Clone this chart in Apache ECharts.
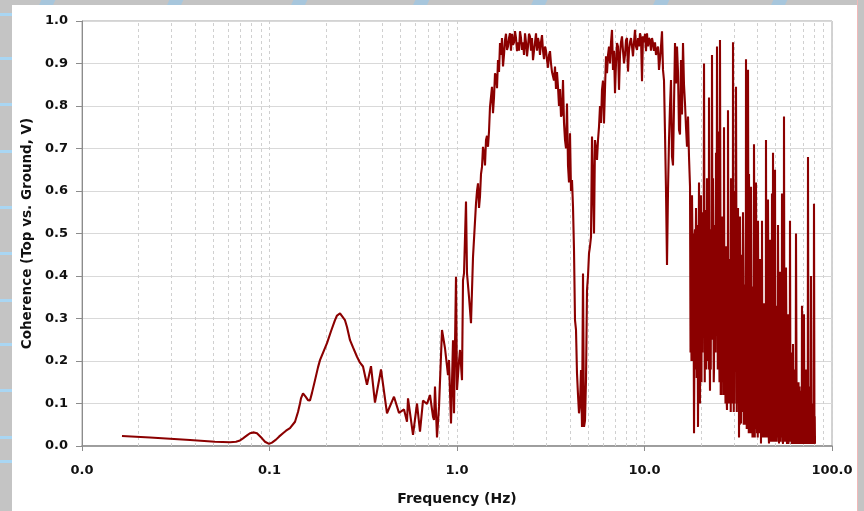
<!DOCTYPE html>
<html>
<head>
<meta charset="utf-8">
<script src="https://cdn.jsdelivr.net/npm/echarts@6/dist/echarts.min.js"></script>
<style>
  html, body { margin:0; padding:0; width:864px; height:511px; overflow:hidden; background:#c4c4c4; }
  #bg { position:absolute; left:0; top:0; width:864px; height:511px; }
  .stripeL { position:absolute; left:0; width:12px; height:3px; background:#a9d6f3; }
  .stripeT { position:absolute; top:0; width:14px; height:6px; background:#a7c6dc; transform:skewX(-25deg); }
  #panel { position:absolute; left:12px; top:5px; width:845px; height:506px; background:#ffffff; }
  #edge { position:absolute; left:857px; top:0; width:1px; height:511px; background:#f2b8b8; }
  #chart { position:absolute; left:0; top:0; width:864px; height:511px; }
</style>
</head>
<body>
<div id="bg">
  <div class="stripeT" style="left:40px"></div>
  <div class="stripeT" style="left:168px"></div>
  <div class="stripeT" style="left:292px"></div>
  <div class="stripeT" style="left:414px"></div>
  <div class="stripeT" style="left:532px"></div>
  <div class="stripeT" style="left:654px"></div>
  <div class="stripeT" style="left:772px"></div>
  <div class="stripeL" style="top:13px"></div>
  <div class="stripeL" style="top:57px"></div>
  <div class="stripeL" style="top:103px"></div>
  <div class="stripeL" style="top:150px"></div>
  <div class="stripeL" style="top:206px"></div>
  <div class="stripeL" style="top:252px"></div>
  <div class="stripeL" style="top:299px"></div>
  <div class="stripeL" style="top:343px"></div>
  <div class="stripeL" style="top:389px"></div>
  <div class="stripeL" style="top:436px"></div>
  <div class="stripeL" style="top:460px"></div>
  <div id="panel"></div>
  <div id="edge"></div>
</div>
<div id="chart"></div>
<script>
// ---- Data (frequency in Hz, coherence) ----
const freqLow = [0.01634, 0.02306, 0.03767, 0.05121, 0.06157, 0.06627, 0.06963, 0.07222, 0.07586, 0.0787,
  0.08266, 0.08577, 0.08683, 0.0912, 0.09462, 0.09939, 0.1031, 0.1083, 0.1124, 0.118,
  0.1225, 0.1286, 0.1368, 0.1419, 0.1454, 0.1472, 0.1509, 0.1565, 0.1604, 0.1644,
  0.1685, 0.1749, 0.1814, 0.1859, 0.1953, 0.2026, 0.2128, 0.2235, 0.2291, 0.2377,
  0.2435, 0.2527, 0.259, 0.2688, 0.2789, 0.2929, 0.3038, 0.3153, 0.3311, 0.3478,
  0.3652, 0.3933, 0.4233, 0.4613, 0.4905, 0.5216, 0.5412, 0.5479, 0.5826, 0.6119,
  0.6348, 0.6587, 0.6918];
const cohLow = [0.0235, 0.020, 0.014, 0.010, 0.009, 0.010, 0.013, 0.018, 0.025, 0.030,
  0.032, 0.030, 0.028, 0.018, 0.010, 0.005, 0.008, 0.015, 0.022, 0.030,
  0.036, 0.042, 0.057, 0.080, 0.100, 0.112, 0.124, 0.115, 0.108, 0.107,
  0.125, 0.155, 0.185, 0.202, 0.225, 0.242, 0.270, 0.296, 0.307, 0.312,
  0.308, 0.296, 0.280, 0.249, 0.232, 0.210, 0.196, 0.187, 0.144, 0.188,
  0.102, 0.180, 0.077, 0.116, 0.078, 0.086, 0.057, 0.112, 0.026, 0.100,
  0.034, 0.107, 0.099];

const freqMid = [0.7178, 0.7356, 0.7447, 0.7539, 0.7632, 0.7822, 0.8017, 0.8318, 0.863, 0.8954,
  0.9064, 0.929, 0.9521, 0.9638, 0.9878, 1.0, 1.0249, 1.0375, 1.0633, 1.0765,
  1.0898, 1.1169, 1.1307, 1.1589, 1.1877, 1.2173, 1.263, 1.2943, 1.3264, 1.3594,
  1.3762, 1.4279, 1.4634, 1.4997, 1.537, 1.556, 1.5947, 1.6343, 1.6545, 1.6957,
  1.7594, 1.8031, 1.8478, 1.9171, 1.9891, 2.0386, 2.0893, 2.1677, 2.2216, 2.305,
  2.3624, 2.451, 2.543, 2.6385, 2.7375, 2.8402, 2.9468, 3.02, 3.1333, 3.251,
  3.3318, 3.4567, 3.5865, 3.6757, 3.7671, 3.8607, 3.9084, 4.0057, 4.1053, 4.156,
  4.2074, 4.2594, 4.3121, 4.3652, 4.4737, 4.585, 4.6417, 4.699, 4.7571, 4.8753,
  4.9355, 5.0584, 5.1842, 5.2483, 5.3789, 5.4451, 5.5805, 5.7194, 5.9329, 6.081,
  6.2327, 6.3096, 6.4665, 6.7093, 6.7922, 6.9613, 7.134, 7.3116, 7.586, 7.7748,
  7.9679, 8.1659, 8.4724, 8.683, 8.899, 9.1201, 9.4624, 9.6977, 9.818, 10.185,
  10.311, 10.699, 11.101, 11.659, 11.949, 12.398, 12.551, 12.863, 13.183, 13.51,
  13.846, 14.017, 14.19, 14.544, 14.723, 14.905, 15.276, 15.465, 15.656, 16.046,
  16.445, 16.854, 17.062, 17.273];
const cohMid = [0.120, 0.122, 0.069, 0.061, 0.140, 0.020, 0.092, 0.273, 0.230, 0.167,
  0.202, 0.053, 0.249, 0.077, 0.398, 0.132, 0.200, 0.226, 0.155, 0.390,
  0.406, 0.575, 0.406, 0.351, 0.289, 0.445, 0.571, 0.618, 0.587, 0.657,
  0.704, 0.720, 0.704, 0.798, 0.845, 0.783, 0.877, 0.842, 0.908, 0.948,
  0.893, 0.955, 0.932, 0.971, 0.944, 0.976, 0.929, 0.976, 0.932, 0.971,
  0.917, 0.964, 0.908, 0.971, 0.948, 0.967, 0.940, 0.908, 0.929, 0.877,
  0.893, 0.845, 0.775, 0.861, 0.720, 0.806, 0.660, 0.736, 0.626, 0.563,
  0.461, 0.296, 0.273, 0.171, 0.077, 0.179, 0.045, 0.406, 0.045, 0.155,
  0.367, 0.453, 0.492, 0.728, 0.500, 0.720, 0.673, 0.751, 0.838, 0.759,
  0.917, 0.877, 0.940, 0.979, 0.885, 0.830, 0.948, 0.838, 0.964, 0.900,
  0.955, 0.881, 0.960, 0.917, 0.979, 0.932, 0.971, 0.858, 0.964, 0.929,
  0.971, 0.955, 0.948, 0.932, 0.885, 0.976, 0.885, 0.736, 0.426, 0.720,
  0.861, 0.681, 0.660, 0.948, 0.853, 0.940, 0.744, 0.733, 0.908, 0.948,
  0.806, 0.704, 0.775, 0.680];

// extra readings across the noisy band of the two broad humps
const freqMidB = [1.2785, 1.3103, 1.3428, 1.3932, 1.4104, 1.4454, 1.4814, 1.5182, 1.5753, 1.6144,
  1.675, 1.7167, 1.7379, 1.7811, 1.8253, 1.8707, 1.8937, 1.9408, 1.9648, 2.0137,
  2.0638, 2.1151, 2.1412, 2.1945, 2.2491, 2.2769, 2.3335, 2.3916, 2.4211, 2.4813,
  2.512, 2.5744, 2.6063, 2.671, 2.704, 2.7713, 2.8056, 2.8753, 2.9108, 2.9832,
  3.0573, 3.0951, 3.172, 3.2113, 3.2911, 3.3729, 3.4145, 3.4994, 3.5427, 3.6308,
  3.7211, 3.8136, 3.9567, 4.0552, 4.4191, 4.529, 4.8158, 4.9965, 5.1209, 5.3127,
  5.5123, 5.6495, 5.79, 5.8616, 6.0063, 6.1565, 6.3876, 6.5464, 6.6273, 6.8761,
  7.0469, 7.2222, 7.4019, 7.4934, 7.6798, 7.8706, 8.0662, 8.2668, 8.369, 8.5771,
  8.7903, 9.0087, 9.2328, 9.3469, 9.5793, 9.9387, 10.061, 10.439, 10.568, 10.831,
  10.965, 11.238, 11.377, 11.518, 11.804, 12.097, 12.246, 12.706, 13.022, 13.345,
  13.677, 14.366, 15.09, 15.85, 16.244, 16.648];
const cohMidB = [0.60, 0.56, 0.64, 0.69, 0.66, 0.73, 0.74, 0.80, 0.82, 0.87,
  0.88, 0.92, 0.96, 0.92, 0.97, 0.94, 0.96, 0.93, 0.97, 0.95,
  0.96, 0.95, 0.93, 0.96, 0.95, 0.92, 0.95, 0.94, 0.97, 0.93,
  0.96, 0.93, 0.95, 0.93, 0.96, 0.92, 0.95, 0.93, 0.91, 0.93,
  0.89, 0.92, 0.90, 0.88, 0.86, 0.84, 0.88, 0.80, 0.84, 0.78,
  0.76, 0.70, 0.62, 0.60, 0.12, 0.10, 0.06, 0.40, 0.47, 0.62,
  0.70, 0.72, 0.80, 0.76, 0.86, 0.84, 0.92, 0.90, 0.95, 0.93,
  0.90, 0.94, 0.92, 0.95, 0.93, 0.92, 0.96, 0.93, 0.95, 0.94,
  0.95, 0.94, 0.96, 0.94, 0.96, 0.95, 0.97, 0.94, 0.96, 0.93,
  0.96, 0.93, 0.95, 0.92, 0.94, 0.91, 0.94, 0.86, 0.60, 0.60,
  0.80, 0.80, 0.88, 0.78, 0.85, 0.75];

const freqHigh = [17.49, 17.70, 17.92, 18.14, 18.37, 18.59, 18.82, 19.06, 19.29, 19.53,
  19.77, 20.01, 20.26, 20.51, 20.77, 21.02, 21.28, 21.55, 21.81, 22.08,
  22.35, 22.63, 22.91, 23.19, 23.48, 23.77, 24.06, 24.36, 24.66, 24.97,
  25.27, 25.59, 25.90, 26.22, 26.55, 26.87, 27.21, 27.54, 27.88, 28.23,
  28.58, 28.93, 29.29, 29.65, 30.02, 30.39, 30.76, 31.14, 31.53, 31.92,
  32.31, 32.71, 33.11, 33.52, 33.94, 34.36, 34.78, 35.21, 35.65, 36.09,
  36.53, 36.98, 37.44, 37.90, 38.37, 38.84, 39.32, 39.81, 40.30, 40.80,
  41.30, 41.81, 42.33, 42.85, 43.38, 43.92, 44.46, 45.01, 45.57, 46.13,
  46.70, 47.28, 47.86, 48.46, 49.05, 49.66, 50.27, 50.90, 51.53, 52.16,
  52.80, 53.45, 54.12, 54.79, 55.46, 56.15, 56.84, 57.55, 58.26, 58.98,
  59.70, 60.44, 61.19, 61.94, 62.71, 63.48, 64.27, 65.06, 65.87, 66.68,
  67.50, 68.33, 69.18, 70.03, 70.90, 71.78, 72.66, 73.56, 74.47, 75.39,
  76.32, 77.26, 78.22, 79.18, 80.16, 81.15];
const cohHigh = [0.61, 0.40, 0.59, 0.23, 0.03, 0.51, 0.56, 0.26, 0.045, 0.62,
  0.10, 0.59, 0.32, 0.55, 0.90, 0.555, 0.18, 0.63, 0.30, 0.82,
  0.13, 0.51, 0.92, 0.63, 0.18, 0.45, 0.69, 0.94, 0.74, 0.28,
  0.955, 0.375, 0.54, 0.20, 0.75, 0.336, 0.47, 0.085, 0.79, 0.25,
  0.20, 0.63, 0.155, 0.95, 0.25, 0.60, 0.845, 0.19, 0.56, 0.02,
  0.54, 0.053, 0.45, 0.55, 0.15, 0.34, 0.91, 0.60, 0.885, 0.64,
  0.257, 0.61, 0.10, 0.375, 0.71, 0.18, 0.62, 0.03, 0.53, 0.124,
  0.44, 0.006, 0.53, 0.22, 0.336, 0.06, 0.72, 0.30, 0.58, 0.006,
  0.485, 0.14, 0.594, 0.69, 0.022, 0.65, 0.33, 0.06, 0.52, 0.006,
  0.41, 0.18, 0.594, 0.005, 0.775, 0.30, 0.42, 0.005, 0.31, 0.077,
  0.53, 0.22, 0.014, 0.24, 0.005, 0.124, 0.50, 0.06, 0.14, 0.005,
  0.10, 0.06, 0.33, 0.02, 0.31, 0.005, 0.18, 0.06, 0.68, 0.14,
  0.005, 0.40, 0.077, 0.005, 0.57, 0.005];

// interleaved readings in the dense high-frequency band
const freqHighB = [17.60, 17.81, 18.03, 18.25, 18.48, 18.70, 18.94, 19.18, 19.41, 19.65,
  19.89, 20.13, 20.38, 20.64, 20.90, 21.15, 21.41, 21.68, 21.94, 22.22,
  22.49, 22.77, 23.05, 23.33, 23.62, 23.92, 24.21, 24.51, 24.81, 25.12,
  25.43, 25.75, 26.06, 26.38, 26.71, 27.04, 27.38, 27.71, 28.05, 28.40,
  28.76, 29.11, 29.47, 29.83, 30.20, 30.58, 30.95, 31.33, 31.72, 32.12,
  32.51, 32.91, 33.31, 33.73, 34.15, 34.57, 34.99, 35.43, 35.87, 36.31,
  36.76, 37.21, 37.67, 38.13, 38.61, 39.08, 39.56, 40.06, 40.55, 41.05,
  41.55, 42.07, 42.59, 43.11, 43.65, 44.19, 44.73, 45.29, 45.85, 46.41,
  46.99, 47.57, 48.15, 48.76, 49.35, 49.97, 50.58, 51.21, 51.85, 52.48,
  53.13, 53.78, 54.45, 55.13, 55.80, 56.50, 57.19, 57.90, 58.62, 59.34,
  60.07, 60.81, 61.57, 62.32, 63.10, 63.87, 64.67, 65.46, 66.28, 67.09,
  67.92, 68.75, 69.61, 70.46, 71.34, 72.22, 73.11, 74.01, 74.93, 75.85,
  76.79, 77.74, 78.70, 79.67, 80.65];
const cohHighB = [0.22, 0.20, 0.48, 0.50, 0.28, 0.18, 0.40, 0.52, 0.30, 0.38,
  0.45, 0.15, 0.22, 0.30, 0.35, 0.42, 0.50, 0.20, 0.48, 0.40,
  0.45, 0.25, 0.33, 0.40, 0.52, 0.22, 0.30, 0.40, 0.50, 0.15,
  0.45, 0.12, 0.42, 0.46, 0.18, 0.10, 0.40, 0.45, 0.35, 0.44,
  0.38, 0.30, 0.42, 0.38, 0.10, 0.30, 0.40, 0.44, 0.30, 0.40,
  0.25, 0.35, 0.12, 0.40, 0.05, 0.20, 0.30, 0.12, 0.35, 0.05,
  0.38, 0.30, 0.02, 0.15, 0.36, 0.04, 0.30, 0.35, 0.25, 0.34,
  0.18, 0.30, 0.03, 0.02, 0.30, 0.25, 0.10, 0.02, 0.32, 0.20,
  0.30, 0.01, 0.15, 0.28, 0.30, 0.02, 0.25, 0.30, 0.20, 0.28,
  0.01, 0.02, 0.22, 0.20, 0.05, 0.01, 0.22, 0.20, 0.005, 0.22,
  0.01, 0.18, 0.20, 0.02, 0.18, 0.01, 0.16, 0.005, 0.15, 0.14,
  0.005, 0.13, 0.005, 0.12, 0.01, 0.12, 0.005, 0.10, 0.005, 0.11,
  0.08, 0.005, 0.10, 0.09, 0.01];

// further interleaved readings filling the dense core of the band
const freqHighC = [17.65, 17.86, 18.09, 18.31, 18.54, 18.76, 18.99, 19.24, 19.47, 19.71,
  19.95, 20.20, 20.45, 20.70, 20.96, 21.21, 21.48, 21.75, 22.01, 22.28,
  22.56, 22.84, 23.12, 23.40, 23.70, 23.99, 24.28, 24.59, 24.89, 25.20,
  25.50, 25.83, 26.14, 26.46, 26.80, 27.12, 27.46, 27.80, 28.14, 28.49,
  28.84, 29.20, 29.56, 29.92, 30.30, 30.67, 31.05, 31.43, 31.82, 32.22,
  32.61, 33.01, 33.42, 33.83, 34.25, 34.68, 35.10, 35.54, 35.98, 36.42,
  36.87, 37.32, 37.79, 38.25, 38.73, 39.20, 39.68, 40.18, 40.67, 41.18,
  41.68, 42.20, 42.72, 43.25, 43.78, 44.33, 44.87, 45.43, 45.99, 46.56,
  47.13, 47.72, 48.30, 48.91, 49.50, 50.12, 50.74, 51.37, 52.01, 52.64,
  53.29, 53.95, 54.62, 55.30, 55.97, 56.67, 57.37, 58.08, 58.80, 59.53,
  60.25, 61.00, 61.76, 62.51, 63.29, 64.07, 64.87, 65.66, 66.48, 67.30,
  68.13, 68.96, 69.82, 70.68, 71.56, 72.45, 73.33, 74.24, 75.16, 76.09,
  77.03, 77.98, 78.94, 79.91, 80.90];
const cohHighC = [0.50, 0.48, 0.20, 0.22, 0.50, 0.46, 0.16, 0.20, 0.50, 0.18,
  0.20, 0.50, 0.48, 0.52, 0.15, 0.20, 0.22, 0.50, 0.18, 0.20,
  0.18, 0.50, 0.50, 0.15, 0.25, 0.48, 0.52, 0.18, 0.20, 0.45,
  0.12, 0.45, 0.15, 0.12, 0.44, 0.42, 0.10, 0.15, 0.10, 0.12,
  0.08, 0.45, 0.10, 0.08, 0.40, 0.42, 0.08, 0.10, 0.42, 0.05,
  0.38, 0.08, 0.30, 0.05, 0.38, 0.05, 0.04, 0.28, 0.03, 0.35,
  0.03, 0.36, 0.30, 0.02, 0.02, 0.28, 0.35, 0.02, 0.32, 0.03,
  0.33, 0.02, 0.30, 0.28, 0.02, 0.02, 0.28, 0.25, 0.02, 0.01,
  0.02, 0.26, 0.01, 0.05, 0.01, 0.25, 0.01, 0.02, 0.26, 0.01,
  0.24, 0.20, 0.01, 0.01, 0.22, 0.20, 0.02, 0.01, 0.20, 0.01,
  0.18, 0.005, 0.005, 0.17, 0.005, 0.14, 0.005, 0.13, 0.01, 0.005,
  0.13, 0.005, 0.12, 0.005, 0.12, 0.005, 0.11, 0.005, 0.10, 0.09,
  0.005, 0.09, 0.08, 0.005, 0.07];

const yTicks = { min: 0, max: 1, interval: 0.1 };
const xRange = { min: 0.01, max: 100 };

// ---- Build series data (merge all readings, ordered by frequency) ----
function pairs(f, c) { return f.map((v, i) => [v, c[i]]); }
const seriesData = [].concat(
  pairs(freqLow, cohLow), pairs(freqMid, cohMid), pairs(freqMidB, cohMidB),
  pairs(freqHigh, cohHigh), pairs(freqHighB, cohHighB), pairs(freqHighC, cohHighC)
).sort((a, b) => a[0] - b[0]);

// minor vertical grid lines (2..9 x each decade) - axis decoration
const minorGrid = [];
[0.01, 0.1, 1, 10].forEach(d => { for (let k = 2; k <= 9; k++) minorGrid.push({ xAxis: +(d * k).toPrecision(3) }); });

const FONT = '"DejaVu Sans", Verdana, sans-serif';
const chart = echarts.init(document.getElementById('chart'), null, { renderer: 'canvas' });
chart.setOption({
  animation: false,
  backgroundColor: 'transparent',
  grid: { left: 82, right: 32, top: 21, bottom: 65, show: true, borderColor: '#a6a6a6', borderWidth: 1, backgroundColor: '#ffffff' },
  xAxis: {
    type: 'log', logBase: 10, min: xRange.min, max: xRange.max,
    name: 'Frequency (Hz)', nameLocation: 'middle', nameGap: 46,
    nameTextStyle: { fontFamily: FONT, fontWeight: 'bold', fontSize: 14, color: '#111' },
    axisLine: { show: true, lineStyle: { color: '#8c8c8c', width: 1.5 } },
    axisTick: { show: true, length: 5, inside: false, lineStyle: { color: '#8c8c8c' } },
    axisLabel: { fontFamily: FONT, fontWeight: 'bold', fontSize: 13, color: '#111', margin: 18,
      formatter: v => Number(v).toFixed(1) },
    splitLine: { show: true, lineStyle: { color: '#d0d0d0', type: [3, 3], width: 1 } },
    minorTick: { show: false }, minorSplitLine: { show: false }
  },
  yAxis: {
    type: 'value', min: yTicks.min, max: yTicks.max, interval: yTicks.interval,
    name: 'Coherence (Top vs. Ground, V)', nameLocation: 'middle', nameGap: 46,
    nameTextStyle: { fontFamily: FONT, fontWeight: 'bold', fontSize: 13.5, color: '#111' },
    axisLine: { show: true, lineStyle: { color: '#8c8c8c', width: 1 } },
    axisTick: { show: true, length: 6, inside: false, lineStyle: { color: '#8c8c8c' } },
    axisLabel: { fontFamily: FONT, fontWeight: 'bold', fontSize: 13, color: '#111', margin: 14,
      formatter: v => Number(v).toFixed(1) },
    splitLine: { show: true, lineStyle: { color: '#d9d9d9', width: 1 } }
  },
  series: [
    {
      type: 'line', data: [], z: 1, silent: true,
      markLine: {
        z: 1, silent: true, symbol: ['none', 'none'], label: { show: false },
        lineStyle: { color: '#d0d0d0', type: [3, 3], width: 1 },
        emphasis: { disabled: true },
        data: minorGrid
      }
    },
    {
      type: 'line', data: seriesData, z: 3, zlevel: 1, showSymbol: false, symbol: 'none',
      lineStyle: { color: '#8b0000', width: 2.1 }, smooth: false, silent: true
    }
  ]
});
</script>
</body>
</html>
